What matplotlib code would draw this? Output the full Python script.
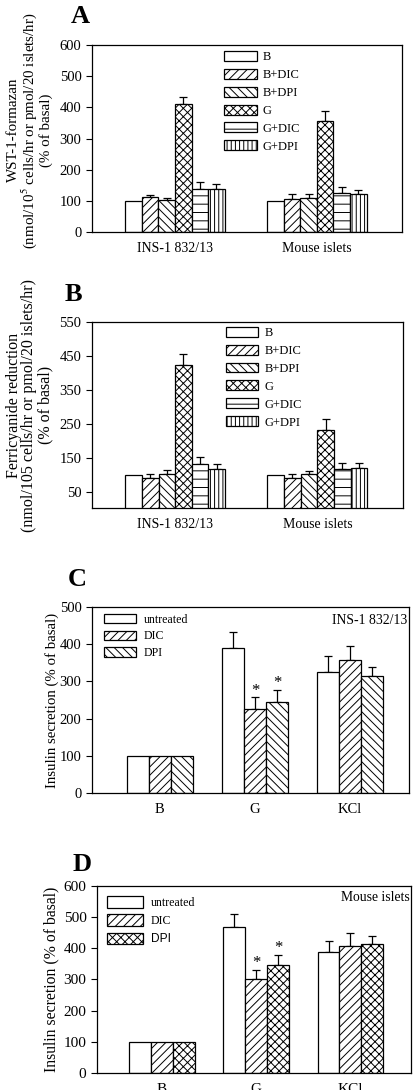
import matplotlib.pyplot as plt
import numpy as np

plt.rcParams['font.family'] = ['Liberation Serif', 'DejaVu Serif']
plt.rcParams['mathtext.fontset'] = 'stix'
plt.rcParams['hatch.linewidth'] = 0.7

# Panel A: WST-1-formazan
ab_groups = ['INS-1 832/13', 'Mouse islets']
ab_series = ['B', 'B+DIC', 'B+DPI', 'G', 'G+DIC', 'G+DPI']
ab_hatches = ['', '////', '\\\\\\\\', 'xxxx', '--', '||||']
a_vals = [[100, 100], [112, 108], [103, 109], [412, 356], [138, 127], [140, 122]]
a_errs = [[0, 0], [8, 14], [8, 13], [22, 32], [22, 17], [15, 14]]

# Panel B: Ferricyanide reduction
b_vals = [[100, 100], [90, 92], [103, 103], [424, 233], [132, 118], [119, 121]]
b_errs = [[0, 0], [12, 10], [12, 10], [33, 33], [22, 18], [13, 14]]

# Panels C and D: insulin secretion
cd_groups = ['B', 'G', 'KCl']
cd_series = ['untreated', 'DIC', 'DPI']
c_hatches = ['', '////', '\\\\\\\\']
c_vals = [[100, 389, 326], [100, 227, 358], [100, 245, 315]]
c_errs = [[0, 43, 42], [0, 30, 36], [0, 32, 23]]
c_star = [[False, False, False], [False, True, False], [False, True, False]]

d_hatches = ['', '////', 'xxxx']
d_vals = [[100, 467, 388], [100, 301, 406], [100, 346, 414]]
d_errs = [[0, 42, 35], [0, 29, 42], [0, 33, 24]]
d_star = [[False, False, False], [False, True, False], [False, True, False]]


def draw_bars(ax, groups, series, hatches, vals, errs, width, stars=None, star_size=12):
    x = np.arange(len(groups))
    n = len(series)
    for i in range(n):
        pos = x + (i - (n - 1) / 2) * width
        v = np.array(vals[i])
        e = np.array(errs[i])
        ax.bar(pos, v, width, color='white', edgecolor='black', linewidth=0.9,
               hatch=hatches[i], label=series[i], zorder=2)
        has_err = e > 0
        ax.errorbar(pos[has_err], v[has_err], yerr=[np.zeros(has_err.sum()), e[has_err]],
                    fmt='none', ecolor='black', elinewidth=0.9, capsize=3,
                    capthick=0.9, zorder=1)
        if stars is not None:
            for j in range(len(groups)):
                if stars[i][j]:
                    ax.text(pos[j], v[j] + e[j] - 4, '*', ha='center', va='bottom',
                            fontsize=star_size)
    ax.set_xticks(x)
    ax.set_xticklabels(groups)
    ax.tick_params(axis='x', length=0, pad=7)
    ax.tick_params(axis='y', direction='out', length=4, width=0.8)
    for s in ax.spines.values():
        s.set_linewidth(0.9)


fig = plt.figure(figsize=(4.14, 10.9), dpi=100)

# ---- A ----
axA = fig.add_axes([0.222, 0.787, 0.749, 0.1716])
draw_bars(axA, ab_groups, ab_series, ab_hatches, a_vals, a_errs, 0.117)
axA.set_xlim(-0.585, 1.6)
axA.set_ylim(0, 600)
axA.set_yticks(range(0, 601, 100))
axA.tick_params(axis='y', labelsize=10.5)
axA.tick_params(axis='x', labelsize=10)
axA.set_ylabel('WST-1-formazan\n(nmol/10$^5$ cells/hr or pmol/20 islets/hr)\n(% of basal)',
               fontsize=10.8, linespacing=1.0)
axA.yaxis.set_label_coords(-0.125, 0.545)
axA.legend(loc='upper left', bbox_to_anchor=(0.426, 0.97), frameon=False, fontsize=9,
           borderpad=0, borderaxespad=0, handlelength=2.6, handleheight=0.85,
           handletextpad=0.5, labelspacing=0.45)
fig.text(0.172, 0.995, 'A', fontsize=19, fontweight='bold', va='top')

# ---- B ----
axB = fig.add_axes([0.222, 0.534, 0.751, 0.1706])
draw_bars(axB, ab_groups, ab_series, ab_hatches, b_vals, b_errs, 0.117)
axB.set_xlim(-0.585, 1.6)
axB.set_ylim(3, 550)
axB.set_yticks(range(50, 551, 100))
axB.tick_params(axis='y', labelsize=10.5)
axB.tick_params(axis='x', labelsize=10)
axB.set_ylabel('Ferricyanide reduction\n(nmol/105 cells/hr or pmol/20 islets/hr)\n(% of basal)',
               fontsize=11.5, linespacing=0.98)
axB.yaxis.set_label_coords(-0.125, 0.553)
axB.legend(loc='upper left', bbox_to_anchor=(0.431, 0.975), frameon=False, fontsize=9,
           borderpad=0, borderaxespad=0, handlelength=2.6, handleheight=0.85,
           handletextpad=0.5, labelspacing=0.45)
fig.text(0.155, 0.7404, 'B', fontsize=19, fontweight='bold', va='top')

# ---- C ----
axC = fig.add_axes([0.222, 0.2725, 0.766, 0.1706])
draw_bars(axC, cd_groups, cd_series, c_hatches, c_vals, c_errs, 0.231, stars=c_star)
axC.set_xlim(-0.715, 2.62)
axC.set_ylim(0, 500)
axC.set_yticks(range(0, 501, 100))
axC.tick_params(axis='y', labelsize=10.5)
axC.tick_params(axis='x', labelsize=10.5)
axC.set_ylabel('Insulin secretion (% of basal)', fontsize=10.7)
axC.yaxis.set_label_coords(-0.105, 0.5)
axC.legend(loc='upper left', bbox_to_anchor=(0.038, 0.965), frameon=False, fontsize=8.6,
           borderpad=0, borderaxespad=0, handlelength=2.7, handleheight=0.8,
           handletextpad=0.65, labelspacing=0.4)
axC.text(0.995, 0.925, 'INS-1 832/13', transform=axC.transAxes, ha='right', va='center',
         fontsize=9.9)
fig.text(0.164, 0.479, 'C', fontsize=19, fontweight='bold', va='top')

# ---- D ----
axD = fig.add_axes([0.234, 0.0156, 0.758, 0.1716])
draw_bars(axD, cd_groups, cd_series, d_hatches, d_vals, d_errs, 0.231, stars=d_star)
axD.set_xlim(-0.69, 2.64)
axD.set_ylim(0, 600)
axD.set_yticks(range(0, 601, 100))
axD.tick_params(axis='y', labelsize=11)
axD.tick_params(axis='x', labelsize=11)
axD.set_ylabel('Insulin secretion (% of basal)', fontsize=11.3)
axD.yaxis.set_label_coords(-0.118, 0.5)
legD = axD.legend(loc='upper left', bbox_to_anchor=(0.032, 0.945), frameon=False, fontsize=8.6,
                  borderpad=0, borderaxespad=0, handlelength=3.0, handleheight=1.1,
                  handletextpad=0.7, labelspacing=0.45)
legD.get_texts()[2].set_family(['Liberation Sans', 'DejaVu Sans'])
axD.text(0.998, 0.94, 'Mouse islets', transform=axD.transAxes, ha='right', va='center',
         fontsize=9.8)
fig.text(0.176, 0.2174, 'D', fontsize=19, fontweight='bold', va='top')

fig.savefig('out.png', dpi=100)
